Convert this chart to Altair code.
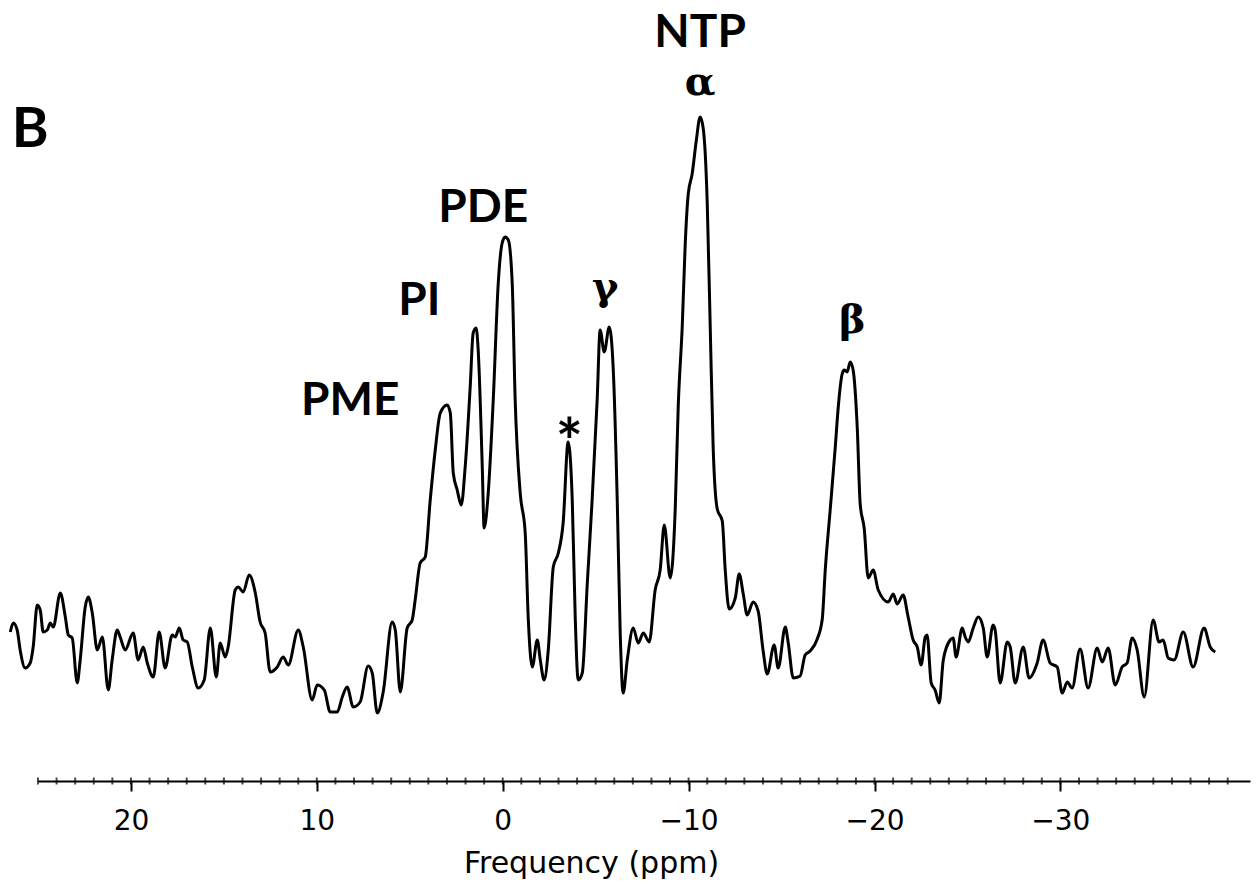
import altair as alt
import pandas as pd

# ---- spectrum trace (chemical shift in ppm, signal in arbitrary units) ----
ppm = [
    26.49, 26.33, 26.12, 25.96, 25.69, 25.42, 25.26, 25.04, 24.88, 24.72,
    24.50, 24.34, 24.18, 23.80, 23.53, 23.37, 23.16, 22.89, 22.73, 22.46,
    22.30, 22.08, 21.81, 21.54, 21.22, 21.01, 20.74, 20.58, 20.31, 19.88,
    19.61, 19.34, 19.12, 18.80, 18.48, 18.16, 17.78, 17.62, 17.40, 17.19,
    16.97, 16.70, 16.38, 16.06, 15.73, 15.41, 15.20, 14.93, 14.77, 14.39,
    14.23, 13.96, 13.64, 13.31, 13.05, 12.78, 12.51, 12.13, 11.81, 11.54,
    11.00, 10.73, 10.25, 9.98, 9.60, 9.28, 8.90, 8.63, 8.37, 8.04,
    7.67, 7.24, 7.02, 6.75, 6.43, 5.95, 5.78, 5.51, 5.14, 4.87,
    4.71, 4.44, 4.17, 3.90, 3.63, 3.36, 2.99, 2.82, 2.66, 2.45,
    2.23, 2.02, 1.75, 1.59, 1.43, 1.32, 1.10, 1.00, 0.78, 0.51,
    0.24, 0.03, -0.13, -0.30, -0.51, -0.67, -0.94, -1.21, -1.37, -1.59,
    -1.86, -2.02, -2.23, -2.45, -2.72, -2.99, -3.25, -3.52, -3.74, -3.90,
    -4.06, -4.28, -4.55, -4.81, -5.08, -5.24, -5.46, -5.73, -5.94, -6.16,
    -6.32, -6.48, -6.70, -7.02, -7.29, -7.56, -7.88, -8.20, -8.47, -8.69,
    -9.01, -9.28, -9.44, -9.66, -9.82, -9.98, -10.19, -10.41, -10.62, -10.79,
    -11.00, -11.16, -11.32, -11.54, -11.81, -11.97, -12.18, -12.51, -12.72, -12.94,
    -13.15, -13.47, -13.74, -14.01, -14.23, -14.60, -14.82, -15.20, -15.36, -15.63,
    -16.00, -16.27, -16.54, -16.92, -17.19, -17.35, -17.62, -17.89, -18.05, -18.26,
    -18.37, -18.53, -18.69, -18.85, -19.07, -19.23, -19.45, -19.66, -19.93, -20.20,
    -20.74, -21.01, -21.22, -21.54, -21.81, -22.08, -22.30, -22.51, -22.73, -22.83,
    -23.05, -23.26, -23.48, -23.70, -24.07, -24.23, -24.39, -24.72, -24.88, -25.04,
    -25.31, -25.58, -25.85, -26.06, -26.38, -26.49, -26.76, -27.14, -27.30, -27.57,
    -28.00, -28.32, -28.75, -29.07, -29.45, -29.83, -30.10, -30.37, -30.63, -31.06,
    -31.49, -31.98, -32.25, -32.57, -32.95, -33.32, -33.59, -33.86, -34.13, -34.51,
    -34.99, -35.31, -35.53, -35.80, -36.12, -36.61, -37.14, -37.73, -38.06, -38.33,
]
signal = [
    149, 158, 151, 131, 113, 118, 134, 176, 171, 149,
    151, 158, 154, 188, 164, 146, 143, 98, 121, 174,
    184, 168, 131, 144, 91, 121, 151, 144, 131, 148,
    121, 134, 118, 104, 149, 113, 146, 144, 153, 141,
    139, 114, 93, 101, 153, 104, 138, 124, 134, 191,
    194, 189, 206, 188, 159, 148, 109, 114, 124, 116,
    151, 134, 81, 96, 91, 69, 69, 84, 94, 74,
    79, 115, 108, 68, 89, 159, 151, 89, 153, 161,
    181, 218, 224, 281, 331, 368, 376, 368, 308, 291,
    276, 314, 394, 448, 453, 431, 314, 253, 288, 381,
    498, 538, 544, 541, 498, 381, 288, 248, 164, 114,
    141, 121, 101, 131, 214, 228, 258, 339, 281, 164,
    101, 108, 198, 281, 381, 451, 429, 454, 414, 281,
    148, 88, 121, 153, 138, 148, 139, 191, 211, 256,
    203, 272, 374, 456, 538, 587, 607, 640, 664, 652,
    579, 456, 334, 272, 260, 211, 172, 183, 207, 187,
    166, 179, 170, 130, 107, 136, 113, 154, 138, 103,
    105, 126, 130, 142, 162, 211, 272, 334, 374, 407,
    411, 409, 419, 411, 354, 277, 252, 203, 211, 191,
    179, 187, 177, 186, 164, 141, 134, 116, 144, 146,
    98, 91, 78, 121, 141, 143, 124, 153, 144, 139,
    153, 164, 153, 124, 156, 151, 98, 139, 134, 98,
    134, 103, 118, 141, 118, 114, 88, 99, 93, 132,
    93, 133, 119, 133, 96, 114, 118, 143, 131, 84,
    161, 139, 141, 123, 121, 149, 114, 153, 134, 129,
]

# ---- peak labels ----
label_text = ["PME", "PI", "PDE", "NTP"]
label_ppm = [8.20, 4.49, 1.05, -10.62]
label_level = [366, 466, 559, 734]

greek_text = ["γ", "α", "β"]
greek_ppm = [-5.51, -10.62, -18.80]
greek_level = [481, 686, 448]

star_text = ["*"]
star_ppm = [-3.58]
star_level = [316]

panel_text = ["B"]
panel_ppm = [25.42]
panel_level = [634]

major_ticks = [20, 10, 0, -10, -20, -30]
minor_ticks = list(range(-39, 26))

trace = pd.DataFrame({"ppm": ppm, "signal": signal, "i": list(range(len(ppm)))})
labels = pd.DataFrame({"t": label_text, "ppm": label_ppm, "signal": label_level})
greek = pd.DataFrame({"t": greek_text, "ppm": greek_ppm, "signal": greek_level})
star = pd.DataFrame({"t": star_text, "ppm": star_ppm, "signal": star_level})
panel = pd.DataFrame({"t": panel_text, "ppm": panel_ppm, "signal": panel_level})
minor = pd.DataFrame({"ppm": minor_ticks})

xaxis = alt.Axis(
    values=major_ticks,
    orient="bottom",
    grid=False,
    domain=True,
    domainColor="black",
    domainWidth=2,
    ticks=True,
    tickColor="black",
    tickWidth=2,
    tickSize=10,
    labelFont="DejaVu Sans",
    labelFontSize=28,
    labelColor="black",
    labelPadding=16,
    labelFlush=False,
    title="Frequency (ppm)",
    titleFont="DejaVu Sans",
    titleFontSize=30,
    titleFontWeight="normal",
    titleColor="black",
    titleBaseline="alphabetic",
    titleAlign="center",
    titleAnchor="start",
    titleX=553,
    titleY=91,
)
xs = alt.Scale(domain=[25, -40.2], nice=False, zero=False)
ys = alt.Scale(domain=[0, 700], nice=False, zero=False)

X = alt.X("ppm:Q", scale=xs, axis=xaxis)
Y = alt.Y("signal:Q", scale=ys, axis=None)

line = alt.Chart(trace).mark_line(
    color="black", strokeWidth=3, interpolate="monotone"
).encode(x=X, y=Y, order="i:Q")

minor_layer = alt.Chart(minor).mark_tick(
    color="black", thickness=2, size=7, orient="vertical"
).encode(x=X, y=alt.YDatum(0, scale=ys, axis=None))

lab_layer = alt.Chart(labels).mark_text(
    font="Lato", fontWeight="bold", fontSize=46, color="black",
    align="center", baseline="alphabetic"
).encode(x=X, y=Y, text="t:N")

greek_layer = alt.Chart(greek).mark_text(
    font="DejaVu Serif", fontWeight="bold", fontSize=40, color="black",
    align="center", baseline="alphabetic"
).encode(x=X, y=Y, text="t:N")

star_layer = alt.Chart(star).mark_text(
    font="Lato", fontWeight="bold", fontSize=64, color="black",
    align="center", baseline="alphabetic"
).encode(x=X, y=Y, text="t:N")

panel_layer = alt.Chart(panel).mark_text(
    font="Lato", fontWeight="bold", fontSize=56, color="black",
    align="center", baseline="alphabetic"
).encode(x=X, y=Y, text="t:N")

chart = alt.layer(
    line, minor_layer, lab_layer, greek_layer, star_layer, panel_layer
).properties(
    width=1212,
    height=700,
    padding={"left": 38, "top": 81, "right": 10, "bottom": 103},
    autosize=alt.AutoSizeParams(type="none"),
    background="white",
).configure_view(strokeWidth=0)

chart.save("out.html", embed_options={"renderer": "svg", "actions": False})
